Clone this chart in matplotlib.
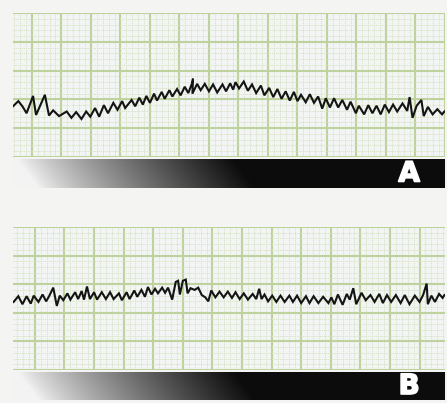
import numpy as np
import matplotlib.pyplot as plt
import matplotlib.patheffects as pe

# ECG traces read off the strips, in paper mm (1 small box = 1 mm, 5 mm = big box)
# strip A: slow baseline drift with fine fibrillatory waves
a_x = [-3.2, -2.3, -1.6, -0.9, 0.2, 0.7, 1.4, 2.2, 2.9, 3.6, 4.6, 5.9, 6.7, 7.5,
       8.4, 9.2, 9.9, 10.7, 11.4, 12.2, 12.9, 13.8, 14.5, 15.3, 15.8, 16.9, 17.5, 18.2,
       18.8, 19.4, 20.0, 20.7, 21.2, 22.0, 22.5, 23.3, 23.8, 24.6, 25.2, 25.9, 26.5,
       27.1, 27.3, 27.2, 28.0, 28.6, 29.3, 30.0, 30.7, 31.4, 32.3, 32.9, 33.6, 34.1,
       34.5, 35.1, 35.9, 36.6, 37.3, 38.0, 38.8, 39.4, 40.2, 40.9, 41.6, 42.3, 43.0,
       43.7, 44.4, 45.0, 45.6, 46.4, 47.1, 47.8, 48.5, 49.2, 49.8, 50.5, 51.2, 51.9,
       52.6, 53.4, 54.0, 54.9, 55.4, 56.3, 57.0, 57.7, 58.4, 59.1, 59.8, 60.5, 61.2,
       61.9, 62.8, 63.6, 64.0, 64.5, 65.2, 66.0, 66.4, 67.1, 67.9, 68.7, 69.5, 69.9]
a_y = [8.8, 9.7, 8.8, 7.6, 10.6, 7.3, 8.9, 10.8, 7.2, 8.1, 7.1, 7.9, 6.8, 7.8,
       6.6, 7.9, 7.0, 8.5, 7.0, 9.0, 7.6, 9.4, 8.2, 9.7, 8.5, 9.9, 8.8, 10.3,
       9.1, 10.6, 9.4, 11.0, 9.8, 11.3, 10.1, 11.6, 10.5, 11.8, 10.7, 12.2, 11.1,
       12.7, 13.6, 11.0, 12.7, 11.6, 12.7, 11.4, 12.6, 11.2, 12.6, 11.4, 12.8, 11.7,
       13.0, 11.9, 13.1, 11.5, 12.6, 11.1, 12.4, 10.7, 12.0, 10.4, 11.8, 10.1, 11.4,
       9.8, 11.3, 9.7, 10.8, 9.5, 10.9, 9.4, 10.5, 8.4, 10.2, 8.6, 10.2, 8.6,
       9.9, 8.2, 9.6, 7.6, 8.9, 7.4, 9.0, 7.6, 8.9, 7.4, 9.1, 7.8, 9.1,
       7.9, 9.3, 8.0, 10.4, 6.8, 8.9, 9.9, 7.1, 8.7, 7.4, 8.3, 7.4, 7.9]

# strip B: flat baseline with coarse, irregular waves
b_x = [-3.6, -2.8, -2.1, -1.4, -0.7, -0.2, 0.6, 1.3, 1.9, 2.4, 3.1, 3.7, 4.2, 4.8,
       5.5, 6.0, 6.8, 7.3, 7.9, 8.3, 8.8, 9.3, 10.0, 10.5, 11.3, 12.0, 12.7, 13.3,
       14.2, 14.7, 15.5, 16.0, 16.8, 17.3, 18.0, 18.6, 19.1, 19.7, 20.3, 20.8, 21.5,
       22.0, 22.5, 23.2, 23.8, 24.2, 24.5, 25.0, 25.5, 25.8, 26.3, 27.0, 27.6, 28.2,
       28.8, 29.3, 29.8, 30.5, 31.2, 31.9, 32.6, 33.3, 33.9, 34.6, 35.3, 36.0, 36.8,
       37.4, 37.9, 38.3, 38.8, 39.4, 40.1, 40.8, 41.5, 42.2, 43.0, 43.6, 44.3, 45.0,
       45.8, 46.4, 47.1, 47.9, 48.7, 49.6, 50.1, 50.6, 51.2, 52.0, 52.7, 53.2, 53.8,
       54.3, 55.2, 55.9, 56.7, 57.4, 58.2, 58.8, 59.5, 60.2, 61.0, 61.8, 62.5, 63.3,
       64.2, 65.0, 65.6, 66.2, 66.4, 67.0, 67.6, 68.3, 68.9, 69.2]
b_y = [11.9, 12.9, 11.5, 12.9, 11.6, 13.0, 11.9, 13.2, 12.0, 12.9, 14.4, 11.2, 13.0, 12.2,
       13.4, 12.3, 13.6, 12.4, 13.8, 12.3, 14.6, 12.4, 13.6, 12.3, 13.6, 12.4, 13.6, 12.4,
       13.4, 12.2, 13.6, 12.4, 13.9, 12.8, 14.0, 12.8, 14.5, 13.2, 14.2, 13.4, 14.4,
       13.5, 14.4, 12.3, 15.4, 15.6, 13.2, 15.6, 15.8, 13.4, 14.3, 14.0, 14.4, 13.1,
       12.7, 12.0, 13.9, 12.7, 13.7, 12.7, 13.7, 12.6, 13.6, 12.4, 13.4, 12.3, 13.3,
       12.4, 14.2, 12.4, 13.2, 12.0, 13.0, 11.9, 13.0, 11.9, 13.0, 11.9, 13.0, 11.7,
       12.9, 11.7, 12.9, 11.7, 12.8, 11.7, 12.7, 11.5, 13.2, 11.4, 13.3, 12.3, 14.3,
       11.5, 13.5, 12.2, 13.1, 11.9, 13.3, 11.7, 13.1, 11.9, 13.1, 11.7, 13.1, 11.5,
       13.0, 11.9, 13.1, 15.1, 11.5, 13.0, 11.9, 13.3, 12.6, 13.1]

labels = ["A", "B"]

PAGE = "#f4f4f3"
PAPER = "#f2f5f3"
MAJOR = "#bfd19d"
MINOR = "#d6e1c4"

fig = plt.figure(figsize=(4.47, 4.03), dpi=100)
fig.patch.set_facecolor(PAGE)


def strip(rect, xs, ys, xlim):
    ax = fig.add_axes(rect)
    ax.set_facecolor(PAPER)
    ax.set_xlim(*xlim)
    ax.set_ylim(0, 25)
    ax.set_xticks(np.arange(0, xlim[1] + 0.01, 5))
    ax.set_xticks(np.arange(np.ceil(xlim[0]), xlim[1] + 0.01, 1), minor=True)
    ax.set_yticks(np.arange(0, 26, 5))
    ax.set_yticks(np.arange(0, 26, 1), minor=True)
    ax.grid(which="minor", color=MINOR, lw=0.6, ls=(0, (1.5, 1)))
    ax.grid(which="major", color=MAJOR, lw=1.5)
    ax.set_axisbelow(True)
    ax.tick_params(which="both", length=0, labelbottom=False, labelleft=False)
    for s in ax.spines.values():
        s.set_visible(False)
    ax.plot(xs, ys, color="#141414", lw=1.5, solid_joinstyle="miter", zorder=3)
    return ax


def bar(rect, letter):
    ax = fig.add_axes(rect)
    ax.axis("off")
    X, Y = np.meshgrid(np.linspace(0, 1, 500), np.linspace(0, 1, 40))
    # dark ramp from the left, a bit lighter towards the lower-left corner
    shade = np.clip((X - 0.01 - 0.05 * (1 - Y)) / 0.5, 0, 1) ** 0.85
    light = 0.95 - 0.9 * shade
    ax.imshow(light, cmap="gray", vmin=0, vmax=1, extent=[0, 1, 0, 1],
              aspect="auto", origin="lower", interpolation="bilinear")
    ax.set_xlim(0, 1)
    ax.set_ylim(0, 1)
    t = ax.text(0.917, 0.5, letter, color="white", fontsize=20, fontweight="heavy",
                family="DejaVu Sans", ha="center", va="center")
    t.set_path_effects([pe.withStroke(linewidth=1.2, foreground="white")])
    return ax


W, H = 447, 403
strip([13 / W, 1 - 157 / H, 432 / W, 144 / H], a_x, a_y, (-3.2, 70.0))
bar([13 / W, 1 - 188 / H, 432 / W, 29 / H], labels[0])
strip([13 / W, 1 - 370 / H, 432 / W, 143 / H], b_x, b_y, (-3.7, 69.3))
bar([13 / W, 1 - 400 / H, 432 / W, 28 / H], labels[1])

fig.savefig("out.png", dpi=100, facecolor=fig.get_facecolor())
